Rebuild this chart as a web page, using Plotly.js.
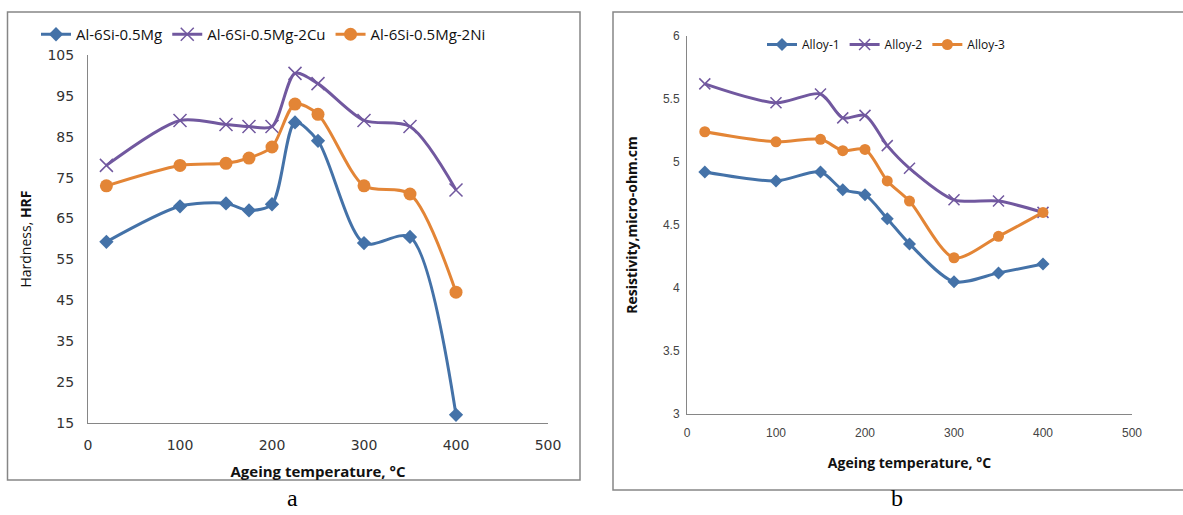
<!DOCTYPE html>
<html>
<head>
<meta charset="utf-8">
<script src="https://cdn.plot.ly/plotly-3.0.1.min.js"></script>
<style>body{margin:0;background:#fff}#chart{width:1183px;height:515px}</style>
</head>
<body>
<div id="chart"></div>
<script>
// Ageing temperatures (°C)
const tempsA = [20, 100, 150, 175, 200, 225, 250, 300, 350, 400];
const tempsB = [20, 100, 150, 175, 200, 225, 250, 300, 350, 400];

// (a) Hardness, HRF
const namesA = ["Al-6Si-0.5Mg", "Al-6Si-0.5Mg-2Cu", "Al-6Si-0.5Mg-2Ni"];
const hardMg   = [59.3, 68, 68.7, 67, 68.5, 88.5, 84, 59, 60.5, 17];
const hardCu   = [78, 89, 88, 87.5, 87.5, 100.5, 98, 89, 87.5, 72];
const hardNi   = [73, 78, 78.5, 79.8, 82.5, 93, 90.5, 73, 71, 47];

// (b) Resistivity, micro-ohm.cm
const namesB = ["Alloy-1", "Alloy-2", "Alloy-3"];
const res1 = [4.92, 4.85, 4.92, 4.78, 4.74, 4.55, 4.35, 4.05, 4.12, 4.19];
const res2 = [5.62, 5.47, 5.54, 5.35, 5.37, 5.13, 4.95, 4.70, 4.69, 4.60];
const res3 = [5.24, 5.16, 5.18, 5.09, 5.10, 4.85, 4.69, 4.24, 4.41, 4.60];

const ticksA = [15, 25, 35, 45, 55, 65, 75, 85, 95, 105];
const ticksB = [3, 3.5, 4, 4.5, 5, 5.5, 6];
const ticksX = [0, 100, 200, 300, 400, 500];

const BLUE = "#4472A8", PURPLE = "#71589F", ORANGE = "#E38536";
const W = 1183, H = 515;
const px = x => x / W, py = y => 1 - y / H;

function tr(x, y, name, color, sym, size, xa, ya, leg) {
  const open = sym.indexOf("x") === 0;
  return {
    x: x, y: y, name: name, type: "scatter", mode: "lines+markers",
    xaxis: xa, yaxis: ya, legend: leg,
    line: {color: color, width: 3, shape: "spline", smoothing: 0.8},
    marker: open ? {symbol: "x-thin-open", size: size, color: color, line: {color: color, width: 1.5}}
                 : {symbol: sym, size: size, color: color}
  };
}

const data = [
  tr(tempsA, hardMg, namesA[0], BLUE, "diamond", 11, "x", "y", "legend"),
  tr(tempsA, hardCu, namesA[1], PURPLE, "x-thin-open", 13, "x", "y", "legend"),
  tr(tempsA, hardNi, namesA[2], ORANGE, "circle", 13, "x", "y", "legend"),
  tr(tempsB, res1, namesB[0], BLUE, "diamond", 10, "x2", "y2", "legend2"),
  tr(tempsB, res2, namesB[1], PURPLE, "x-thin-open", 11, "x2", "y2", "legend2"),
  tr(tempsB, res3, namesB[2], ORANGE, "circle", 11, "x2", "y2", "legend2")
];

const axBase = {
  showgrid: false, zeroline: false, showline: true, linecolor: "#868686", linewidth: 1,
  ticks: "", automargin: false, fixedrange: true
};

const layout = {
  width: W, height: H,
  margin: {l: 0, r: 0, t: 0, b: 0},
  paper_bgcolor: "#fff", plot_bgcolor: "#fff",
  showlegend: true,
  font: {family: "DejaVu Sans", color: "#222"},
  xaxis: Object.assign({}, axBase, {
    domain: [px(88), px(548)], anchor: "y", range: [0, 500], tickvals: ticksX,
    ticklabelstandoff: 9,
    tickfont: {family: "DejaVu Sans", size: 14, color: "#333"},
    title: {text: "<b>Ageing temperature, °C</b>", font: {family: "Open Sans", size: 15, color: "#111"}, standoff: 14}
  }),
  yaxis: Object.assign({}, axBase, {
    domain: [py(423), py(55)], anchor: "x", range: [15, 105], tickvals: ticksA,
    ticklabelstandoff: 10,
    tickfont: {family: "DejaVu Sans", size: 14, color: "#333"},
    title: {text: "Hardness, <b>HRF</b>", font: {family: "Open Sans", size: 14, color: "#111"}, standoff: 12}
  }),
  xaxis2: Object.assign({}, axBase, {
    domain: [px(687), px(1132)], anchor: "y2", range: [0, 500], tickvals: ticksX,
    ticklabelstandoff: 8,
    tickfont: {family: "Liberation Sans", size: 12, color: "#444"},
    title: {text: "<b>Ageing temperature, °C</b>", font: {family: "Open Sans", size: 14, color: "#111"}, standoff: 18}
  }),
  yaxis2: Object.assign({}, axBase, {
    domain: [py(414), py(36)], anchor: "x2", range: [3, 6], tickvals: ticksB,
    ticklabelstandoff: 4,
    tickfont: {family: "Liberation Sans", size: 12, color: "#444"},
    title: {text: "<b>Resistivity,micro-ohm.cm</b>", font: {family: "Open Sans", size: 14, color: "#111"}, standoff: 22}
  }),
  legend: {
    orientation: "h", x: px(36), y: py(18), xanchor: "left", yanchor: "top",
    font: {family: "Open Sans", size: 15, color: "#111"}, bgcolor: "rgba(0,0,0,0)",
    itemwidth: 30, tracegroupgap: 0, itemclick: false
  },
  legend2: {
    orientation: "h", x: px(762), y: py(30), xanchor: "left", yanchor: "top",
    font: {family: "Open Sans", size: 12, color: "#111"}, bgcolor: "rgba(0,0,0,0)",
    itemwidth: 30, itemclick: false
  },
  shapes: [
    {type: "rect", xref: "paper", yref: "paper", x0: px(7.5), x1: px(580), y0: py(480), y1: py(12),
     line: {color: "#868686", width: 1.5}, fillcolor: "rgba(0,0,0,0)", layer: "below"},
    {type: "rect", xref: "paper", yref: "paper", x0: px(613), x1: px(1190), y0: py(490), y1: py(12),
     line: {color: "#868686", width: 1.5}, fillcolor: "rgba(0,0,0,0)", layer: "below"}
  ],
  annotations: [
    {text: "a", xref: "paper", yref: "paper", x: px(292), y: py(513), xanchor: "center", yanchor: "bottom",
     showarrow: false, font: {family: "Liberation Serif", size: 24, color: "#000"}},
    {text: "b", xref: "paper", yref: "paper", x: px(897), y: py(513), xanchor: "center", yanchor: "bottom",
     showarrow: false, font: {family: "Liberation Serif", size: 24, color: "#000"}}
  ]
};

Plotly.newPlot("chart", data, layout, {staticPlot: true, displayModeBar: false});
</script>
</body>
</html>
